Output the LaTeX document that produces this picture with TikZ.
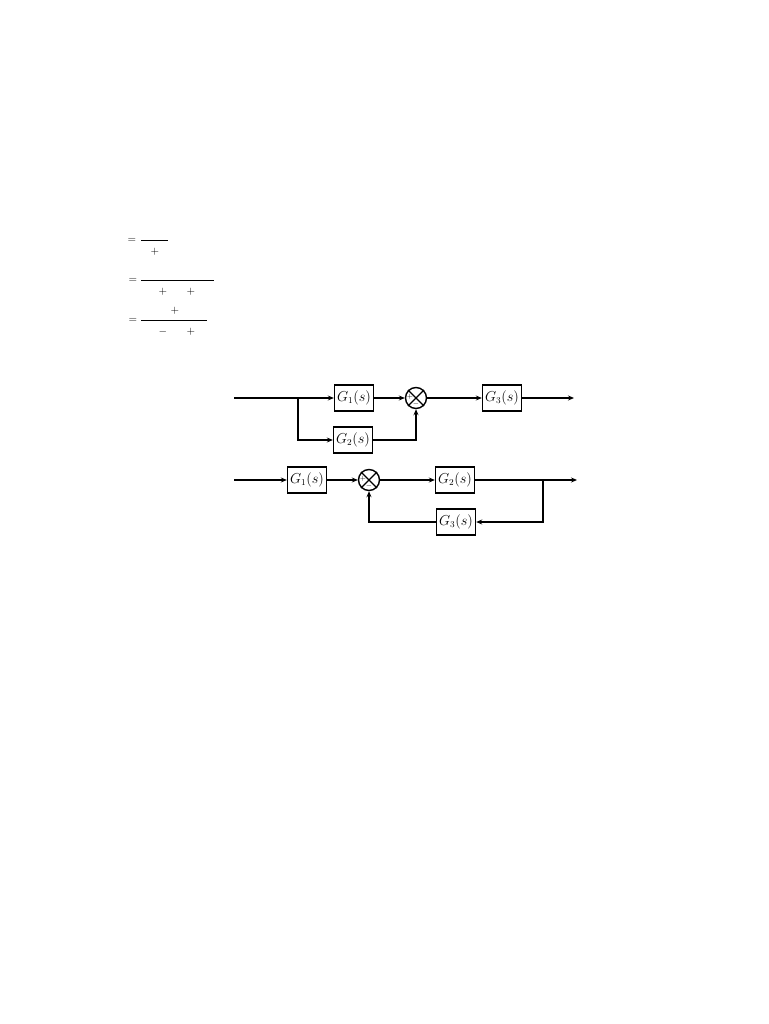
\documentclass[tikz,border=0pt]{standalone}
\usetikzlibrary{arrows.meta,calc}
\begin{document}
\begin{tikzpicture}[x=1pt,y=-1pt,
  blk/.style={draw,line width=1.4pt,minimum width=39pt,minimum height=26pt,inner sep=0pt,font=\fontsize{13.5}{15}\selectfont},
  sumj/.style={draw,line width=1.4pt,circle,minimum size=21pt,inner sep=0pt},
  wire/.style={line width=1.4pt},
  arr/.style={line width=1.4pt,-{Stealth[length=6pt,width=5pt]}},
  sgn/.style={font=\fontsize{7}{8}\selectfont,inner sep=0pt},
  eq/.style={font=\fontsize{11}{13}\selectfont,inner sep=0pt}]
\useasboundingbox (0,0) rectangle (768,1024);

% equations
\node[eq] (e1) at (132,240) {$=$};
\coordinate (l1a) at (141,240); \coordinate (l1b) at (168,240);
\draw[line width=0.8pt] (l1a) -- (l1b);
\node[eq] (p1) at (155,252) {$+$};

\node[eq] (e2) at (133,280) {$=$};
\coordinate (l2a) at (141,280); \coordinate (l2b) at (214,280);
\draw[line width=0.8pt] (l2a) -- (l2b);
\node[eq] (p2) at (163,292) {$+$};
\node[eq] (p3) at (191,292) {$+$};

\node[eq] (p4) at (175,311) {$+$};
\node[eq] (e3) at (133,320) {$=$};
\coordinate (l3a) at (141,320); \coordinate (l3b) at (207,320);
\draw[line width=0.8pt] (l3a) -- (l3b);
\node[eq] (m1) at (163,332) {$-$};
\node[eq] (p5) at (191,332) {$+$};

% top diagram
\coordinate (in1) at (234,398);
\coordinate (br1) at (298,398);
\node[blk] (g1a) at (354,398) {$G_1(s)$};
\node[blk] (g2a) at (353,440) {$G_2(s)$};
\node[sumj] (s1) at (416,398) {};
\draw[line width=1.2pt] (s1.45) -- (s1.225) (s1.135) -- (s1.315);
\node[sgn] (s1p) at ($(s1.center)+(-6,-1)$) {$+$};
\node[sgn] (s1m) at ($(s1.center)+(0,6)$) {$-$};
\node[blk] (g3a) at (502,398) {$G_3(s)$};
\coordinate (out1) at (574,398);
\draw[wire] (in1) -- (br1);
\draw[arr] (br1) -- (g1a.west);
\draw[arr] (br1) |- (g2a.west);
\draw[arr] (g1a.east) -- (s1.west);
\draw[arr] (g2a.east) -| (s1.south);
\draw[arr] (s1.east) -- (g3a.west);
\draw[arr] (g3a.east) -- (out1);

% bottom diagram
\coordinate (in2) at (234,480);
\node[blk] (g1b) at (307,480) {$G_1(s)$};
\node[sumj] (s2) at (369,480) {};
\draw[line width=1.2pt] (s2.45) -- (s2.225) (s2.135) -- (s2.315);
\node[sgn] (s2p) at ($(s2.center)+(-6,-1)$) {$+$};
\node[sgn] (s2m) at ($(s2.center)+(0,6)$) {$-$};
\node[blk] (g2b) at (455,480) {$G_2(s)$};
\node[blk] (g3b) at (456,522) {$G_3(s)$};
\coordinate (br2) at (543,480);
\coordinate (out2) at (577,480);
\draw[arr] (in2) -- (g1b.west);
\draw[arr] (g1b.east) -- (s2.west);
\draw[arr] (s2.east) -- (g2b.west);
\draw[arr] (g2b.east) -- (out2);
\draw[arr] (br2) |- (g3b.east);
\draw[arr] (g3b.west) -| (s2.south);
\end{tikzpicture}
\end{document}
